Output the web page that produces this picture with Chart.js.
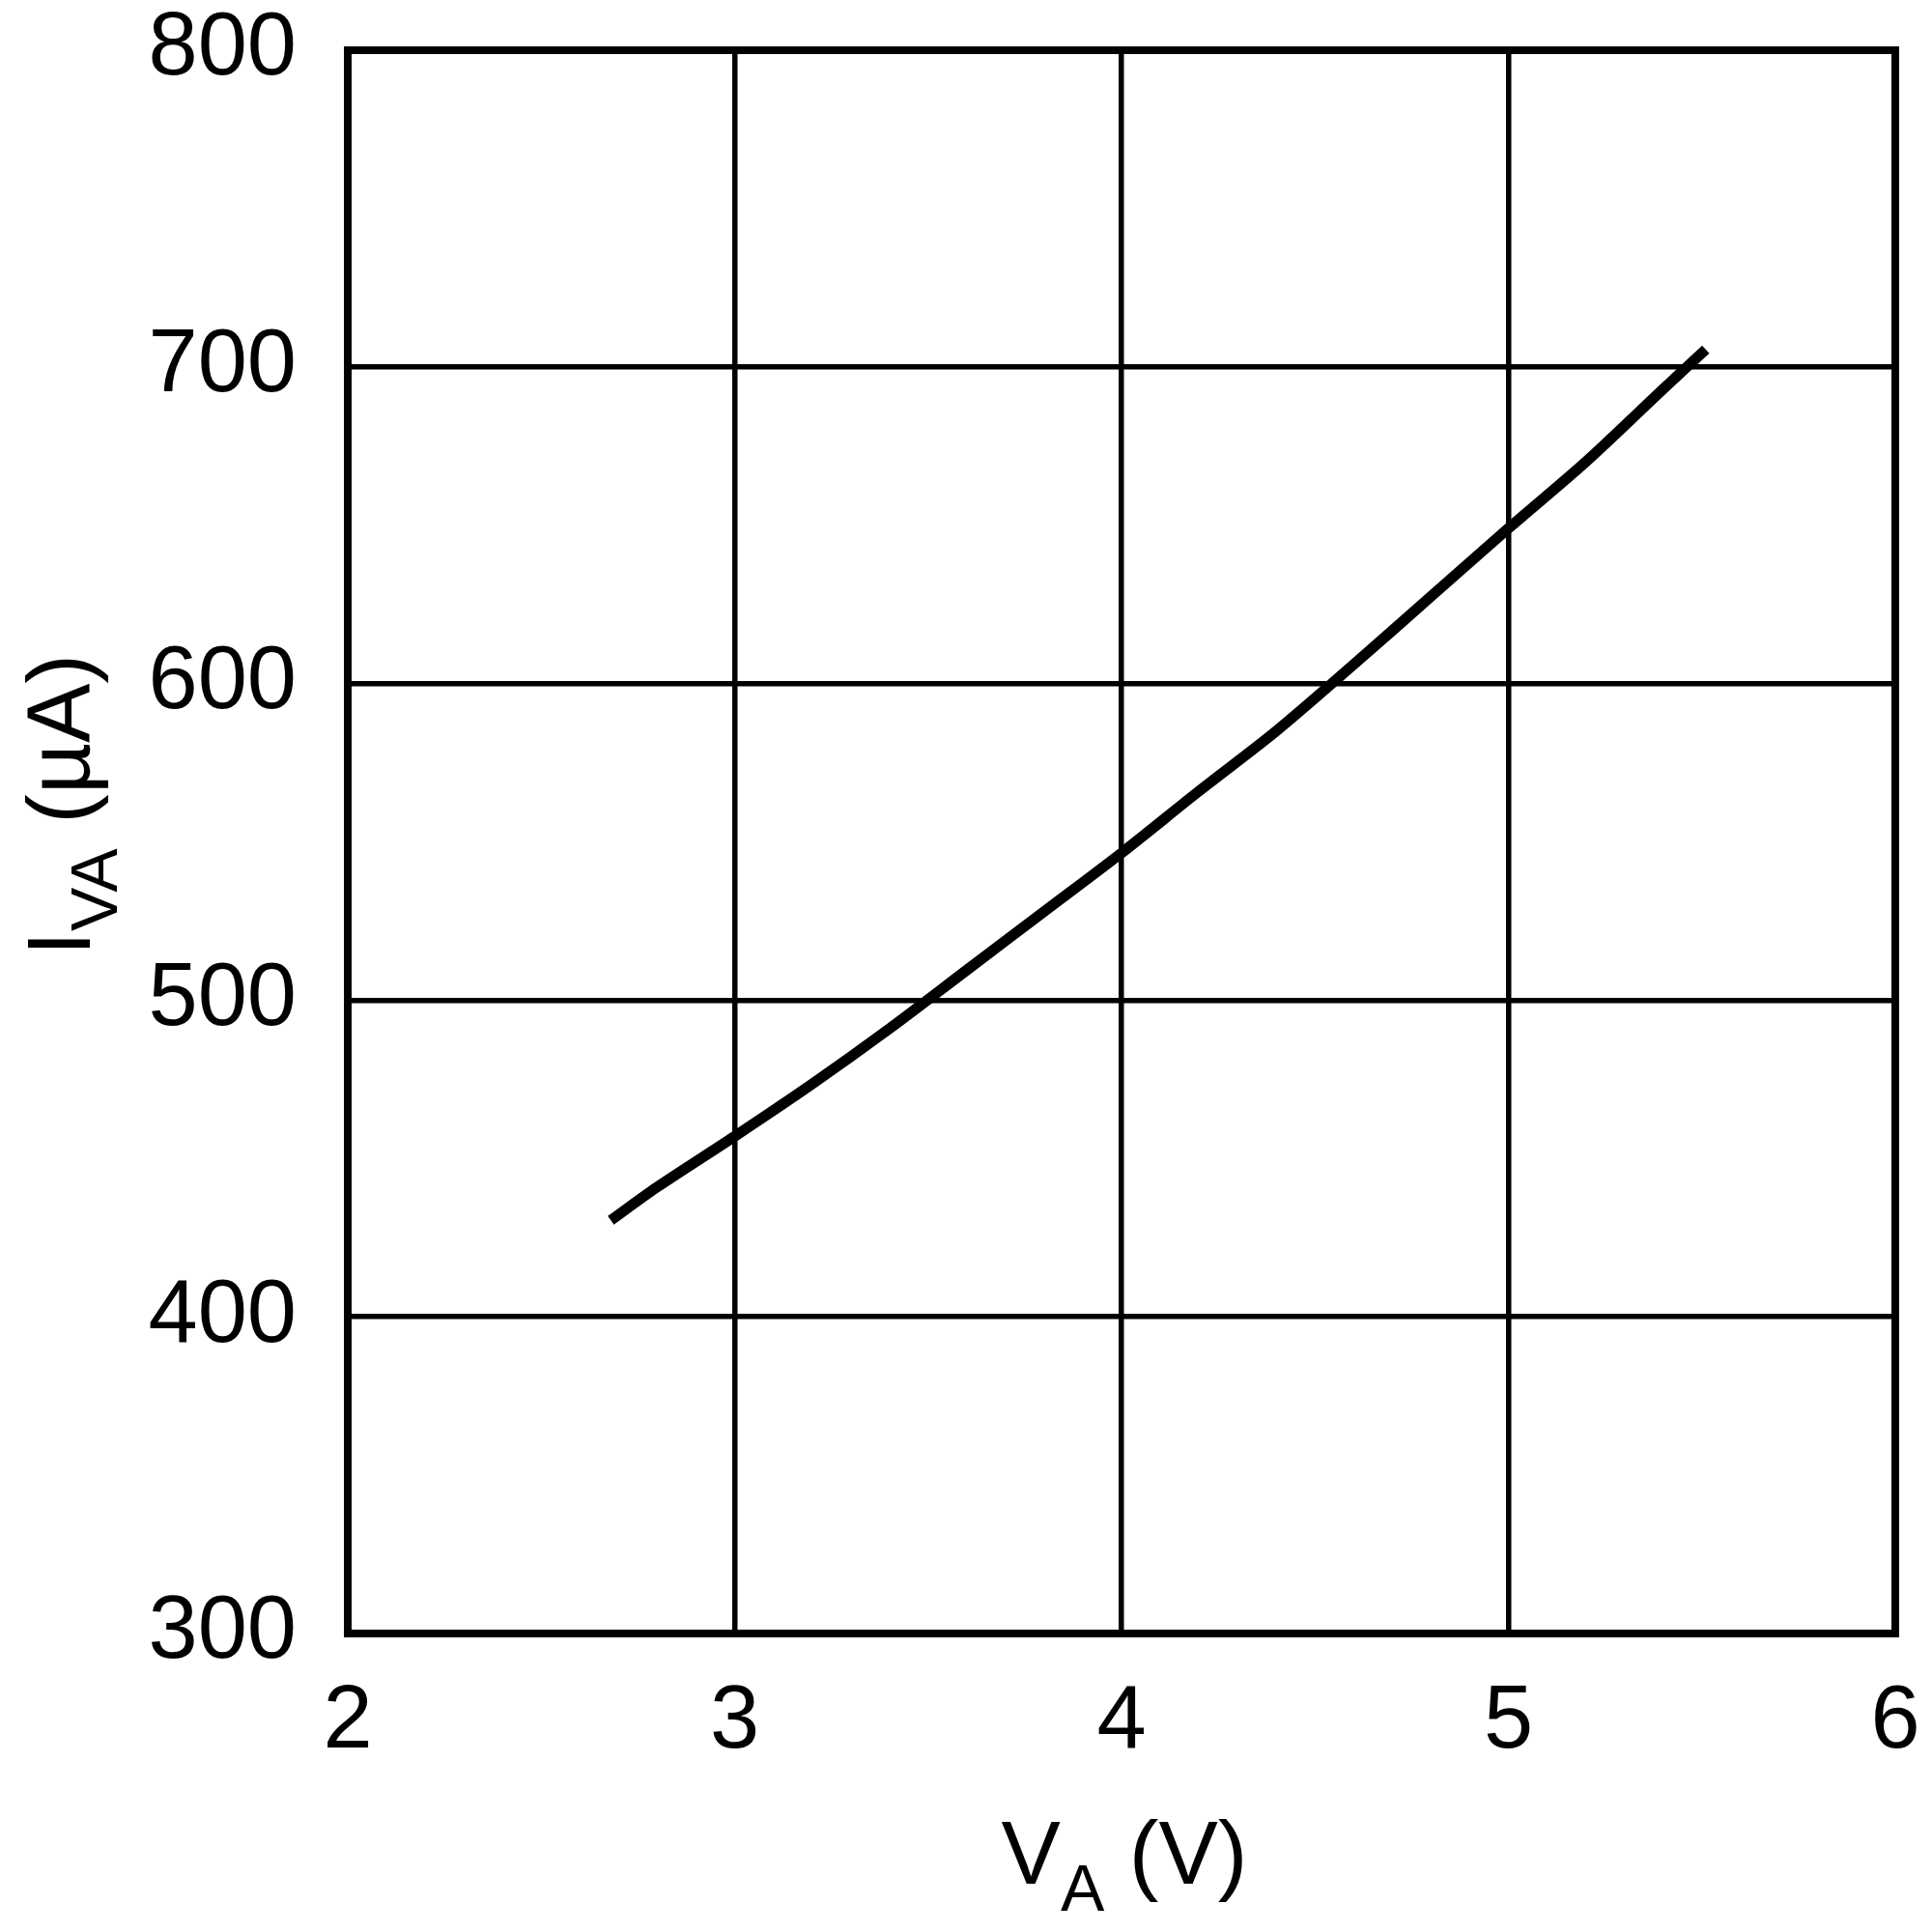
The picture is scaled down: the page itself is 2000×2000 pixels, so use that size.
<!DOCTYPE html>
<html>
<head>
<meta charset="utf-8">
<script src="https://cdn.jsdelivr.net/npm/chart.js@4"></script>
<style>
  html, body { margin: 0; padding: 0; background: #ffffff; }
  #wrap { width: 2000px; height: 2000px; }
</style>
</head>
<body>
<div id="wrap"><canvas id="c" width="2000" height="2000"></canvas></div>
<script>
// ---- data ----
const vA  = [2.68, 2.8, 3.0, 3.2, 3.4, 3.6, 3.8, 4.0, 4.2, 4.4, 4.6, 4.8, 5.0, 5.2, 5.4, 5.51];
const iVA = [430.5, 441, 457, 473.5, 491, 509.5, 528, 546.5, 566, 585, 606, 627.5, 649, 670, 693, 705.5];

const xTicks = [2, 3, 4, 5, 6];
const yTicks = [300, 400, 500, 600, 700, 800];

// axis titles: [main, subscript, rest]
const xTitle = ['V', 'A', ' (V)'];
const yTitle = ['I', 'VA', ' (\u00B5A)'];

const FONT = "'Liberation Sans', Arial, Helvetica, sans-serif";
const MAIN_SIZE = 92;
const SUB_SIZE = 68;

const points = vA.map((x, i) => ({ x: x, y: iVA[i] }));

function drawTitle(ctx, parts, x0, y0) {
  let x = x0;
  ctx.font = MAIN_SIZE + 'px ' + FONT;
  ctx.fillText(parts[0], x, y0);
  x += ctx.measureText(parts[0]).width;
  ctx.font = SUB_SIZE + 'px ' + FONT;
  ctx.fillText(parts[1], x, y0 + 28);
  x += ctx.measureText(parts[1]).width;
  ctx.font = MAIN_SIZE + 'px ' + FONT;
  ctx.fillText(parts[2], x, y0);
}
function titleWidth(ctx, parts) {
  ctx.font = MAIN_SIZE + 'px ' + FONT;
  let w = ctx.measureText(parts[0]).width + ctx.measureText(parts[2]).width;
  ctx.font = SUB_SIZE + 'px ' + FONT;
  w += ctx.measureText(parts[1]).width;
  return w;
}

const framePlugin = {
  id: 'frame',
  beforeDatasetsDraw(chart) {
    const { ctx, chartArea: a } = chart;
    ctx.save();
    ctx.strokeStyle = '#000';
    ctx.lineWidth = 8;
    ctx.strokeRect(a.left, a.top, a.right - a.left, a.bottom - a.top);
    ctx.restore();
  },
  afterDraw(chart) {
    const { ctx, chartArea: a } = chart;
    ctx.save();
    ctx.fillStyle = '#000';
    ctx.textBaseline = 'alphabetic';
    ctx.textAlign = 'left';
    const wx = titleWidth(ctx, xTitle);
    const cx = (a.left + a.right) / 2 + 3;
    drawTitle(ctx, xTitle, cx - wx / 2, a.bottom + 259);
    ctx.translate(93, (a.top + a.bottom) / 2 + 118);
    ctx.rotate(-Math.PI / 2);
    drawTitle(ctx, yTitle, 0, 0);
    ctx.restore();
  }
};

new Chart(document.getElementById('c'), {
  type: 'scatter',
  data: {
    datasets: [{
      data: points,
      showLine: true,
      borderColor: '#000',
      backgroundColor: '#000',
      borderWidth: 11,
      borderCapStyle: 'butt',
      borderJoinStyle: 'round',
      pointRadius: 0,
      pointHoverRadius: 0,
      tension: 0.3
    }]
  },
  options: {
    responsive: false,
    animation: false,
    devicePixelRatio: 1,
    layout: { padding: { top: 52, right: 38, left: 0, bottom: 0 } },
    plugins: { legend: { display: false }, tooltip: { enabled: false } },
    scales: {
      x: {
        type: 'linear',
        min: xTicks[0],
        max: xTicks[xTicks.length - 1],
        afterBuildTicks(scale) { scale.ticks = xTicks.map(v => ({ value: v })); },
        afterFit(scale) { scale.height = 309; },
        grid: { color: '#000', lineWidth: 5.5, drawTicks: true, tickLength: 47, tickColor: 'rgba(0,0,0,0)' },
        border: { display: false },
        ticks: {
          color: '#000',
          padding: 0,
          maxRotation: 0,
          font: { family: FONT, size: MAIN_SIZE, lineHeight: 1 },
          callback: v => String(v)
        }
      },
      y: {
        type: 'linear',
        min: yTicks[0],
        max: yTicks[yTicks.length - 1],
        afterBuildTicks(scale) { scale.ticks = yTicks.map(v => ({ value: v })); },
        afterFit(scale) { scale.width = 360; },
        grid: { color: '#000', lineWidth: 5.5, drawTicks: true, tickLength: 53, tickColor: 'rgba(0,0,0,0)' },
        border: { display: false },
        ticks: {
          color: '#000',
          padding: 0,
          font: { family: FONT, size: MAIN_SIZE, lineHeight: 1 },
          callback: v => String(v)
        }
      }
    }
  },
  plugins: [framePlugin]
});
</script>
</body>
</html>
